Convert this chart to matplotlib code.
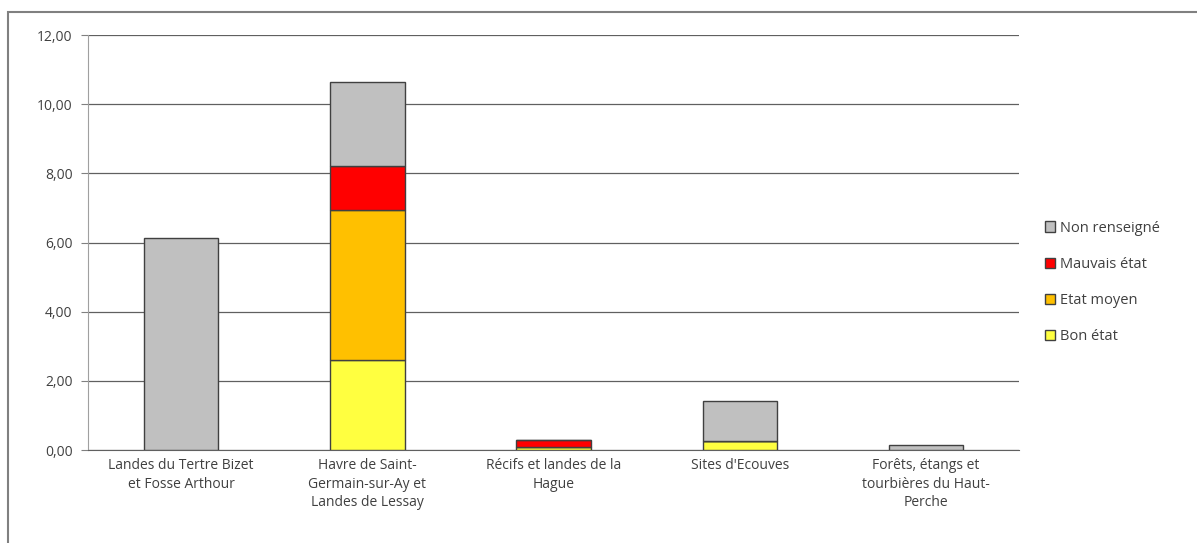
import numpy as np
import matplotlib.pyplot as plt
from matplotlib.patches import Rectangle

# Sites and surfaces by state of conservation
sites = ['Landes du Tertre Bizet\net Fosse Arthour',
         'Havre de Saint-\nGermain-sur-Ay et\nLandes de Lessay',
         'Récifs et landes de la\nHague',
         "Sites d'Ecouves",
         'Forêts, étangs et\ntourbières du Haut-\nPerche']
bon_etat = [0.0, 2.60, 0.08, 0.25, 0.0]
etat_moyen = [0.0, 4.35, 0.02, 0.0, 0.0]
mauvais_etat = [0.0, 1.25, 0.18, 0.0, 0.0]
non_renseigne = [6.13, 2.45, 0.0, 1.17, 0.15]
y_ticks = [0, 2, 4, 6, 8, 10, 12]

plt.rcParams['font.family'] = ['Open Sans', 'DejaVu Sans']

fig = plt.figure(figsize=(11.97, 5.43), dpi=100)
ax = fig.add_axes([0.0735, 0.171, 0.778, 0.7645])

x = np.arange(len(sites))
w = 0.4
edge = '#404040'
series = [(bon_etat, '#ffff40', 'Bon état'),
          (etat_moyen, '#ffc000', 'Etat moyen'),
          (mauvais_etat, '#ff0000', 'Mauvais état'),
          (non_renseigne, '#c0c0c0', 'Non renseigné')]
bottom = np.zeros(len(sites))
handles = []
for vals, col, lab in series:
    h = ax.bar(x, vals, w, bottom=bottom, color=col, edgecolor=edge,
               linewidth=1.0, label=lab, zorder=3)
    handles.append(h)
    bottom += np.array(vals)

ax.set_xlim(-0.5, len(sites) - 0.5)
ax.set_ylim(0, 12)
ax.set_yticks(y_ticks)
ax.set_yticklabels([f'{v:.2f}'.replace('.', ',') for v in y_ticks])
ax.set_xticks(x)
ax.set_xticklabels(sites, fontsize=10, color='#404040', linespacing=1.3)
ax.tick_params(axis='x', length=0, pad=6)
ax.tick_params(axis='y', length=5, color='#808080', labelsize=10,
               labelcolor='#404040', pad=6)
ax.grid(axis='y', color='#606060', linewidth=0.9, zorder=0)
for s in ['top', 'right']:
    ax.spines[s].set_visible(False)
ax.spines['left'].set_color('#a0a0a0')
ax.spines['bottom'].set_color('#606060')

leg = fig.legend(handles[::-1], [h.get_label() for h in handles[::-1]],
                 loc='center left', bbox_to_anchor=(0.862, 0.48),
                 frameon=False, fontsize=10.5, handlelength=0.7,
                 handleheight=0.7, handletextpad=0.3, labelspacing=1.45)
for t in leg.get_texts():
    t.set_color('#404040')

fig.patches.append(Rectangle((0.007, -0.01), 1.0, 0.988, transform=fig.transFigure,
                             fill=False, edgecolor='#808080', linewidth=1.5))

fig.savefig('out.png', dpi=100)
